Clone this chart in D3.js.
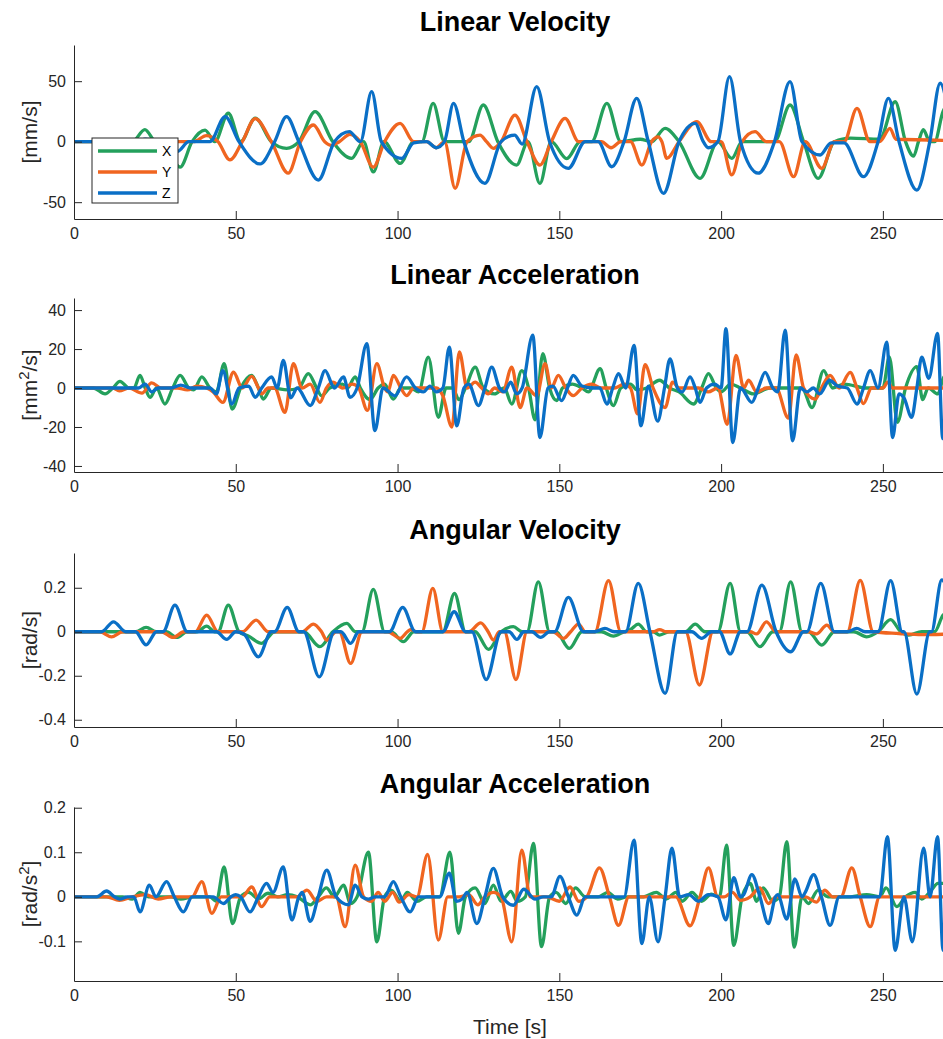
<!DOCTYPE html>
<html>
<head>
    <meta charset="utf-8">
    <style>
        body { margin: 0; background: #fff; }
        svg { display: block; font-family: "Liberation Sans", Arial, sans-serif; }
    </style>
</head>
<body>
    <svg width="943" height="1039"></svg>
    <script src="https://d3js.org/d3.v7.min.js"></script>
    <script>
        // [time s, value] points, one list per axis
        let linVelX = [[0,0],[18,0],[21.9,10],[25,0],[28,-3],[32.8,-21],[36.5,0],[40.5,9.5],[43.5,0],[47.7,23.5],[51.5,0],[56,19.5],[61,0],[65.7,-5.5],[69.5,0],[74.5,24.8],[80,0],[85.8,-13.8],[89.5,0],[92.5,-25],[95.8,0],[100.8,-18],[105,0],[107.5,0],[111,31.7],[114.5,0],[122,0],[126.5,30.3],[131,0],[136.8,-19.3],[140.3,0],[144,-34.4],[147.5,0],[152.3,-14],[156.5,0],[160,0],[164.7,31.7],[169,0],[175,2],[178.5,0],[182.7,11],[187,0],[193.5,-30.3],[199,0],[203.3,-13.8],[206.5,0],[216.5,0],[221.3,30.3],[225.5,0],[230,-30.3],[235,0],[240,3],[249,2],[253.8,33],[257,0],[259.5,-12],[261,0],[262.5,10],[264.5,0],[266,0],[268.6,25],[272,35]];
        let linVelY = [[0,0],[37,0],[40.9,5],[44.5,0],[48.2,-15],[52,0],[56,19],[61,0],[66.2,-26],[70,0],[74,13.8],[77.5,0],[79.5,-3],[82,0],[85.3,6],[88.5,0],[92.5,-21],[96,0],[100.8,15.2],[105,0],[109,0],[112,-5],[114.5,0],[117.8,-38.5],[121.5,0],[125.5,5.5],[127.5,0],[129.6,-5.5],[132,0],[136.3,22],[140,0],[144,-19.3],[147.5,0],[151.8,19.3],[156,0],[163,0],[166,-5],[169,0],[172,0],[175.5,-19.3],[178.5,0],[180.5,4],[181.7,0],[183.2,-13.8],[187,0],[192.5,16.5],[197,0],[200,0],[203.3,-27.5],[206.5,0],[210.5,8.3],[214,0],[218,0],[222.4,-28.9],[226,0],[231.1,-22],[235,0],[238,0],[242,27.6],[246,0],[249,0],[252.2,11],[254,2],[272,1]];
        let linVelZ = [[0,0],[20,0],[22,2],[26,0],[29,-3],[32,-8],[35.5,0],[42,0],[46.7,20.7],[51,0],[57.5,-18.4],[62,0],[65.7,20.7],[69.5,0],[75.5,-31.7],[80.5,0],[85.1,8.3],[88.5,0],[92,41.3],[95,0],[101.3,-13.8],[105,-1],[109,0],[112,-5],[114.5,0],[117.3,31.7],[120.5,0],[127,-34.4],[132,0],[136.2,5.5],[138.5,-2],[143,45.5],[147,0],[152.8,-22],[158,0],[162,0],[166.2,-20.7],[170,0],[173.9,35.8],[177.5,0],[182.2,-42.7],[187,0],[192,15.2],[194.5,0],[196,-5],[199,0],[202.6,53.7],[206,0],[211.5,-26],[216.5,0],[221.3,49.6],[225,0],[230.6,-11],[234,-1],[238,-1],[244,-28.9],[248.5,0],[251.7,35.8],[255,0],[260.5,-40],[264.5,0],[267.7,48.3],[271,10]];

        let linAccX = [[0,0],[6,0],[9.6,-3],[12,0],[14.2,3.4],[17,0],[18.5,0],[20.4,6.5],[22,0],[23.5,-4.8],[25.5,0],[28.1,-8.2],[30.5,0],[32.8,6.5],[35.5,0],[37,-1],[39.5,5.7],[42,0],[44,-2],[46.4,12.5],[48.9,-10.8],[51.5,0],[54.9,6.5],[57,0],[58.5,-5.7],[61,0],[66,-1],[69.5,0],[72.4,7.4],[75,0],[76.5,-4],[79,0],[83,2],[84.5,0],[86.9,5.7],[88.5,0],[91.5,-6],[94,0],[96,2],[98.7,-5.7],[101,0],[104,0],[106.5,-2],[109.5,15.9],[112.6,-15],[115,0],[117,0],[119,-6],[121,0],[124,10.7],[126.5,0],[130,-3],[133,0],[135.3,-8.2],[138.4,8.9],[140.5,0],[142.5,-16.3],[144.9,17.6],[147,0],[149.2,-6.5],[151,0],[154,2],[157,0],[159,-2],[162.6,9.9],[164.5,0],[166.7,-9],[169,0],[172,2],[174,-1],[177,0],[181,4],[184,0],[187,-2],[191.5,-8.2],[194,0],[196.1,7.4],[198.5,0],[200,-2],[203,2],[206,0],[210,-3],[215,0],[225,0],[228.1,-10],[231.7,8.9],[234.5,0],[238,2],[245,0],[250,0],[252,16],[254.5,-17.6],[257,0],[260.5,11],[262.3,-6],[264,0],[267,-3],[269,6],[272,0]];
        let linAccY = [[0,0],[12,0],[14,-1.5],[17,0],[21,-2.6],[24,2.6],[27,0],[32,0],[35,-1],[38,1],[41,0],[43,-2],[46,-7.4],[49.3,8.1],[52,0],[54.9,6],[57,0],[58,-3],[60,0],[62,0],[65.2,-12.5],[67.8,12.5],[70.5,0],[73,2],[76,-7.4],[78,0],[80,3],[83,0],[86,2],[88,0],[90.7,-11.5],[93.6,12.5],[96,0],[97,-2],[98.7,6.5],[101,0],[102.8,-3.9],[105,0],[112,0],[114,-4],[116.8,-20],[119.1,18.5],[121.5,0],[124,3],[126,0],[128,-3],[130,0],[132.5,-2],[135.3,10.7],[137.9,-10],[140,0],[143,-4],[145.6,12.5],[147.5,0],[149.7,6.5],[152,0],[154.3,-3.9],[157,0],[160,2],[163,0],[167,0],[170,2],[172,0],[174.2,-13.3],[176.5,12],[179,0],[182.7,-10],[185,3],[187,0],[193,0],[196,-2],[199,0],[201.9,-18.6],[204.6,16.8],[207,0],[208.5,4],[211,-2],[214,0],[217,0],[220.8,-15.5],[223.2,17],[225.5,0],[229.1,-5.7],[231,0],[233.7,6.5],[236.5,0],[239.9,8],[242,0],[244,-8],[246.5,0],[250,0],[251.5,3],[253,0],[272,0]];
        let linAccZ = [[0,0],[20,0],[22,2],[24,-2],[26,0],[30,0],[33,1.5],[36,0],[42,0],[44,-3],[46,8.9],[48.8,-8.2],[51,0],[54,1],[56,-4.8],[58,0],[61.1,5.7],[62.8,0],[64.7,14.2],[67,-5],[69,0],[73,-9],[75.5,0],[77.6,8.9],[80.5,0],[83.3,5.7],[85.3,-4.8],[87.5,0],[90.5,22.8],[93,-21.9],[95.5,0],[99.2,-4],[102.8,5.7],[105.5,0],[108,-2],[110,1],[112,-2],[114,0],[116,21],[118.3,-19.4],[120.5,0],[122,2],[125,-9],[127,0],[129.1,10.7],[131.5,0],[133,-2],[135,3],[136.8,-3],[138.5,0],[141.8,27.1],[144,-25.4],[146.5,0],[148,1],[150.7,-6.5],[152.5,0],[154.3,6.5],[157,1],[160,0],[162.5,0],[164.7,-8.2],[166.5,0],[168.3,7.4],[170.5,0],[173.1,21.9],[175.2,-19.4],[177.5,1],[180.4,-17],[182.5,0],[184.2,15],[186.5,0],[188,-2],[190.4,5.7],[192,0],[193.5,-7.4],[195.5,0],[198,2],[200,0],[201.5,30.5],[203.6,-28],[206,0],[209.5,-7.4],[211.5,0],[213.6,8],[216,0],[217.5,-2],[219.8,29.7],[222.1,-27.1],[224.5,0],[226.5,-2],[228.5,0],[230.5,-3],[233.5,4],[236,1],[239,0],[242,-8.2],[244,0],[246.1,8.9],[248.5,0],[251.2,23.6],[253,-25.4],[255,-3],[256.5,-5],[258.9,-15],[260.5,0],[262,15.9],[264.2,5],[266.9,28],[268.5,-26],[271,0]];

        let angVelX = [[0,0],[19,0],[22.3,0.02],[25.5,0],[28.5,0],[31.7,-0.026],[35,0],[38,0],[41,0.026],[43.5,0],[44.5,0],[47.7,0.121],[51,0],[54,-0.02],[58,-0.053],[62,0],[71,0],[76,-0.068],[80,0],[84.3,0.038],[87,0],[89,0],[92.5,0.193],[96,0],[98,0],[101.8,-0.045],[105,0],[114,0],[117.6,0.174],[121,0],[124,0],[128.1,-0.08],[132,0],[135.8,0.023],[138.5,0],[140,0],[143.5,0.227],[147,0],[149,0],[153.1,-0.076],[157,0],[163,0],[166.7,-0.02],[170,0],[172,0.01],[174.4,0.035],[177,0],[179,0],[181,-0.015],[184,0],[189,0],[192,0.035],[195,0],[199,0],[202.8,0.22],[206,0],[208,0],[212,-0.068],[216,0],[218,0],[221.5,0.227],[225,0],[227,0],[231.1,-0.061],[235,0],[241,0],[245,-0.023],[248.5,0],[252.4,0.055],[255.5,0],[258,-0.015],[262,0],[266,0],[268.6,0.075],[272,0.1]];
        let angVelY = [[0,0],[8,0],[11.6,-0.023],[15,0],[27,0],[30.7,-0.026],[34,0],[37.5,0],[41,0.076],[44.5,0],[52,0],[56.3,0.053],[60,0],[70.5,0],[74,0.035],[76.5,0],[78.1,-0.038],[81,0],[82,0],[85.5,-0.144],[89,0],[97,0],[100.8,-0.03],[103,0],[104,0.01],[106,0],[107.5,0],[110.9,0.197],[114,0],[122,0],[125.7,0.04],[128,0],[129.6,-0.038],[131.5,0],[133,0],[136.6,-0.217],[140,0],[148,0],[151.3,-0.03],[153.5,0],[155.9,0.035],[158,0],[161,0],[165.2,0.232],[169,0],[179,0],[181,0.01],[183,0],[189,0],[193.3,-0.242],[197.5,0],[209,0],[211,-0.01],[214,0.045],[217,0],[227,0],[229.5,-0.01],[232.7,0.03],[235,0],[239,0],[243,0.234],[247,0],[255,-0.008],[262,-0.013],[272,-0.01]];
        let angVelZ = [[0,0],[8.5,0],[12.2,0.045],[16,0],[19,0],[22.3,-0.06],[25.5,0],[27.5,0],[31.2,0.121],[35,0],[44,0],[47.2,-0.035],[50,0],[52.5,-0.01],[57,-0.114],[61,0],[62,0],[65.9,0.111],[69.5,0],[71,0],[75.8,-0.205],[80.5,0],[82.5,0],[85.5,-0.053],[88,0],[97.5,0],[101.6,0.111],[105.5,0],[114,0],[117.5,0.091],[121,0],[123,0],[127.4,-0.217],[132,0],[134.5,0],[136.9,-0.035],[139,0],[141.5,0],[144.2,-0.026],[147,0],[148.5,0],[152.8,0.156],[157.5,0],[161,0],[164.1,0.015],[167,0],[170.5,0],[174.4,0.22],[178,0],[182.7,-0.28],[186.5,0],[191,0],[194,-0.03],[197,0],[199.5,0],[202.8,-0.101],[206,0],[208,0],[212.6,0.212],[217,0],[221.5,-0.091],[225.5,0],[226.5,0],[230.8,0.22],[235,0],[239,0],[241.9,0.015],[244.5,0],[248.5,0],[252.4,0.232],[256,0],[256.5,0],[260.5,-0.283],[264.5,0],[265,0],[268.2,0.236],[272,0]];

        let angAccX = [[0,0],[15,0],[18,-0.005],[20.4,0.01],[23,0],[30,0],[33,-0.005],[37,0],[42,0],[44,-0.01],[46.4,0.067],[49,-0.06],[51.5,0],[54,0.01],[57,-0.005],[60,0.008],[63,0],[66,0.005],[69,0],[73,-0.018],[75.5,0],[78,0.02],[80.5,0],[83.3,0.026],[85.5,-0.015],[87.5,0],[91,0.1],[93.6,-0.101],[96,0],[98,0.015],[101,-0.01],[103,0.01],[106,-0.01],[109,0],[113,0],[116.2,0.1],[118.8,-0.082],[121,0],[124,0.02],[127,-0.015],[129.6,0.026],[132,-0.01],[135,0.012],[137,-0.01],[139.5,0],[142,0.12],[144.5,-0.112],[147,0],[149,0.01],[152,-0.015],[155,0.02],[158,0],[162,0],[165,0.01],[168,-0.005],[171,0],[176,0],[180,0.01],[183,-0.005],[186,0.01],[188,-0.01],[191,0.01],[194,-0.01],[197,0.006],[199.5,0],[201.7,0.116],[203.9,-0.109],[206.5,0],[209,0.03],[211,-0.01],[213,0.02],[216,-0.01],[218,0],[220.3,0.124],[222.6,-0.113],[225,0],[227,-0.015],[230,0.015],[233,0],[240,0],[245,0.005],[249,0],[251,0.02],[254.3,-0.022],[257,0],[260,0.01],[262,-0.005],[265,0.015],[267,0.03],[269,0.03],[272,0.02]];
        let angAccY = [[0,0],[10,0],[14,-0.008],[18,0],[22,0.005],[26,-0.005],[30,0],[36.5,0],[39.5,0.034],[42.6,-0.037],[45.5,0],[52,0],[54.9,0.022],[58,-0.022],[60.5,0],[69,0],[72,0.015],[75,-0.01],[78,0],[81,0],[83.8,-0.067],[86.9,0.071],[89.5,0],[92,-0.01],[94,0.01],[96,-0.01],[98.5,0.01],[100.5,-0.012],[103.5,0.005],[106,0],[109.3,0.095],[112.6,-0.097],[115.5,0],[119,0],[122,0.005],[124.8,-0.018],[127,0],[129.6,0.01],[132,0],[135.3,-0.101],[138.4,0.105],[141,0],[146,0],[150,-0.01],[153.3,0.022],[156,-0.01],[158.5,0],[162.4,0.065],[165.5,0],[168.3,-0.064],[171.5,0],[175,0],[186,0],[190.4,-0.065],[193.5,0],[196.1,0.065],[199,0],[201,0],[203.5,0.01],[206,-0.008],[209,0],[212,0.02],[214.6,-0.015],[217,0],[226,0],[229.5,-0.012],[232,0.015],[234.5,0],[237,0],[240.4,0.065],[243,0],[246.1,-0.067],[249,0],[272,0]];
        let angAccZ = [[0,0],[7,0],[10.1,0.013],[12.5,0],[14.2,-0.005],[16.5,0],[18.5,0],[20.4,-0.034],[23.3,0.026],[25.3,0],[28.6,0.034],[31,0],[33.8,-0.034],[36.5,0],[43,0],[46.2,-0.015],[48.5,0],[50,0.005],[51.5,0],[54.4,-0.034],[57,0],[59.5,0.03],[61.5,0.01],[64.7,0.067],[67.3,-0.052],[69.5,0],[70.5,0.01],[73,-0.055],[75.5,0],[78.1,0.06],[81,0],[84.8,-0.018],[86.9,0.026],[89,0],[91,-0.005],[93,0],[96,0],[98.7,0.034],[101,0],[103.9,-0.034],[106.5,0],[113,0],[116,0.053],[118.2,-0.01],[120,-0.005],[121.5,0.01],[124.5,-0.06],[127,0],[129.6,0.064],[132.5,0],[135.8,-0.019],[139,0.017],[142.5,-0.005],[145,0],[147.5,0],[150.2,0.046],[152.8,0],[155.4,-0.041],[158,0],[170,0],[173.1,0.127],[175.5,-0.105],[177.8,0],[180.5,-0.101],[182.7,0],[184.8,0.109],[187.2,0],[190,0.005],[193,-0.01],[196,0.005],[199,0],[201.5,-0.052],[203.9,0.043],[206,0],[207,0.005],[209.5,0.05],[212,0],[214.6,-0.06],[216.8,0],[217.5,0.005],[220.3,-0.05],[222.8,0.04],[225,0],[226,0.01],[228.6,0.05],[231,0],[233.7,-0.064],[236.5,0],[249,0],[251.4,0.135],[253.8,-0.12],[256.5,0],[259.1,-0.101],[262.6,0.109],[264.6,0],[266.9,0.135],[268.6,-0.12],[271,0]];

        let titles = ["Linear Velocity", "Linear Acceleration", "Angular Velocity", "Angular Acceleration"];
        let yLabels = [["[mm/s]"], ["[mm", "2", "/s]"], ["[rad/s]"], ["[rad/s", "2", "]"]];
        let yDomains = [[-63.9, 79.9], [-43.1, 46.2], [-0.433, 0.358], [-0.189, 0.2016]];
        let yTicks = [[-50, 0, 50], [-40, -20, 0, 20, 40], [-0.4, -0.2, 0, 0.2], [-0.1, 0, 0.1, 0.2]];
        let xTicks = [0, 50, 100, 150, 200, 250];
        let seriesNames = ["X", "Y", "Z"];
        let colors = ["#24a05c", "#f06520", "#0a6fc6"];
        let panelData = [
            [linVelX, linVelY, linVelZ],
            [linAccX, linAccY, linAccZ],
            [angVelX, angVelY, angVelZ],
            [angAccX, angAccY, angAccZ]
        ];

        let svg = d3.select("svg");
        let defs = svg.append("defs");
        let axisColor = "#262626";
        let panelTops = [45, 298, 553, 807];
        let panelH = 174;
        let lineW = 3.3;
        let x = d3.scaleLinear().domain([0, 272.6]).range([74, 956]);

        panelData.forEach((series, i) => {
            let top = panelTops[i], bottom = top + panelH;
            let y = d3.scaleLinear().domain(yDomains[i]).range([bottom, top]);
            let g = svg.append("g");

            defs.append("clipPath").attr("id", "clip" + i)
                .append("rect").attr("x", 74).attr("y", top).attr("width", 882).attr("height", panelH);

            let line = d3.line()
                .x(d => x(d[0]))
                .y(d => y(d[1]))
                .curve(d3.curveMonotoneX);

            g.selectAll("path.series")
                .data(series)
                .enter()
                .append("path")
                .attr("class", "series")
                .attr("clip-path", "url(#clip" + i + ")")
                .attr("d", line)
                .attr("fill", "none")
                .attr("stroke", (d, j) => colors[j])
                .attr("stroke-width", lineW)
                .attr("stroke-linejoin", "round");

            let xAxis = g.append("g")
                .attr("transform", "translate(0," + bottom + ")")
                .call(d3.axisBottom(x).tickValues(xTicks).tickSize(-8).tickSizeOuter(0).tickPadding(9));
            let yAxis = g.append("g")
                .attr("transform", "translate(74,0)")
                .call(d3.axisLeft(y).tickValues(yTicks[i]).tickFormat(d => String(d)).tickSize(-8).tickSizeOuter(0).tickPadding(8));
            [xAxis, yAxis].forEach(a => {
                a.selectAll("path, line").attr("stroke", axisColor);
                a.selectAll("text").attr("fill", axisColor).style("font-size", "16px").style("font-family", "Liberation Sans, Arial, sans-serif");
            });

            g.append("text")
                .attr("x", 515)
                .attr("y", top - 14)
                .attr("text-anchor", "middle")
                .style("font-size", "27px")
                .style("font-weight", "bold")
                .attr("fill", "#000")
                .text(titles[i]);

            let lab = g.append("text")
                .attr("transform", "translate(37," + (top + bottom) / 2 + ") rotate(-90)")
                .attr("text-anchor", "middle")
                .style("font-size", "21px")
                .attr("fill", axisColor);
            let parts = yLabels[i];
            lab.append("tspan").text(parts[0]);
            if (parts.length > 1) {
                lab.append("tspan").attr("dy", -8).style("font-size", "15px").text(parts[1]);
                lab.append("tspan").attr("dy", 8).text(parts[2]);
            }
        });

        svg.append("text")
            .attr("x", 510)
            .attr("y", 1034)
            .attr("text-anchor", "middle")
            .style("font-size", "21px")
            .attr("fill", axisColor)
            .text("Time [s]");

        // legend in the first panel
        let legend = svg.append("g").attr("transform", "translate(92,138)");
        legend.append("rect")
            .attr("width", 86).attr("height", 65)
            .attr("fill", "#fff").attr("stroke", axisColor).attr("stroke-width", 1);
        seriesNames.forEach((name, j) => {
            legend.append("line")
                .attr("x1", 6).attr("x2", 65)
                .attr("y1", 13 + j * 21).attr("y2", 13 + j * 21)
                .attr("stroke", colors[j]).attr("stroke-width", lineW);
            legend.append("text")
                .attr("x", 70).attr("y", 13 + j * 21)
                .attr("dy", "0.35em")
                .style("font-size", "14px")
                .attr("fill", "#000")
                .text(name);
        });
    </script>
</body>
</html>
